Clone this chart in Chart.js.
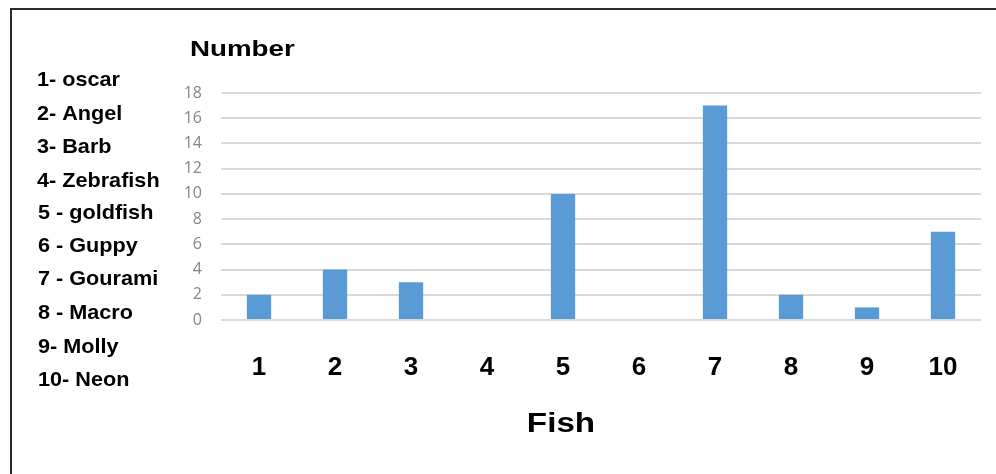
<!DOCTYPE html>
<html>
<head>
<meta charset="utf-8">
<script src="https://cdn.jsdelivr.net/npm/chart.js@4.4.1/dist/chart.umd.min.js"></script>
<style>
  html, body { margin: 0; padding: 0; background: #fff; }
  #wrap { position: relative; width: 996px; height: 474px; }
  canvas { display: block; }
</style>
</head>
<body>
<div id="wrap"><canvas id="c" width="996" height="474"></canvas></div>
<script>
// Fish survey: number of fish per species
const fishIds = ['1', '2', '3', '4', '5', '6', '7', '8', '9', '10'];
const fishNames = ['1- oscar', '2- Angel', '3- Barb', '4- Zebrafish', '5 - goldfish',
                   '6 - Guppy', '7 - Gourami', '8 - Macro', '9- Molly', '10- Neon'];
const fishCounts = [2, 4, 3, 0, 10, 0, 17, 2, 1, 7];
const yTicks = [0, 2, 4, 6, 8, 10, 12, 14, 16, 18];

const sans = '"Liberation Sans", Arial, sans-serif';

// Draws text with a horizontal stretch factor
function stretchedText(ctx, text, x, y, sx, align) {
  ctx.save();
  ctx.translate(x, y);
  ctx.scale(sx, 1);
  ctx.textAlign = align;
  ctx.fillText(text, 0, 0);
  ctx.restore();
}

// Frame lines, axis titles and the species key beside the plot
const decorations = {
  id: 'decorations',
  afterDraw(chart) {
    const ctx = chart.ctx;
    ctx.save();
    ctx.strokeStyle = '#2b2b2b';
    ctx.lineWidth = 2;
    ctx.beginPath();
    ctx.moveTo(10, 9);
    ctx.lineTo(996, 9);
    ctx.moveTo(11, 9);
    ctx.lineTo(11, 474);
    ctx.stroke();

    ctx.fillStyle = '#000';
    ctx.textBaseline = 'middle';
    ctx.font = 'bold 22px ' + sans;
    stretchedText(ctx, 'Number', 190, 50, 1.26, 'left');

    ctx.font = 'bold 27px ' + sans;
    stretchedText(ctx, 'Fish', 561, 425, 1.23, 'center');

    ctx.font = 'bold 21px ' + sans;
    const rowY = [80, 114, 147, 181, 213, 246, 279, 313, 347, 380];
    fishNames.forEach((name, i) => {
      stretchedText(ctx, name, i < 4 ? 37 : 38, rowY[i], 1.03, 'left');
    });
    ctx.restore();
  }
};

new Chart(document.getElementById('c'), {
  type: 'bar',
  data: {
    labels: fishIds,
    datasets: [{
      data: fishCounts,
      backgroundColor: '#5b9bd5',
      borderWidth: 0,
      barPercentage: 0.32,
      categoryPercentage: 1.0
    }]
  },
  options: {
    responsive: false,
    animation: false,
    devicePixelRatio: 1,
    layout: { padding: { top: 93, right: 15, left: 0, bottom: 0 } },
    plugins: { legend: { display: false }, tooltip: { enabled: false } },
    scales: {
      x: {
        grid: { display: false },
        border: { display: false },
        ticks: {
          color: '#000',
          padding: 24,
          font: { family: sans, size: 26, weight: 'bold' }
        },
        afterFit(scale) { scale.height = 154; }
      },
      y: {
        min: 0,
        max: 18,
        afterBuildTicks(scale) { scale.ticks = yTicks.map(v => ({ value: v })); },
        grid: { color: '#d9d9d9', lineWidth: 2, drawTicks: false },
        border: { display: false },
        ticks: {
          color: '#858585',
          padding: 19,
          font: { family: '"Open Sans", sans-serif', size: 16 }
        },
        afterFit(scale) { scale.width = 221; }
      }
    }
  },
  plugins: [decorations]
});
</script>
</body>
</html>
